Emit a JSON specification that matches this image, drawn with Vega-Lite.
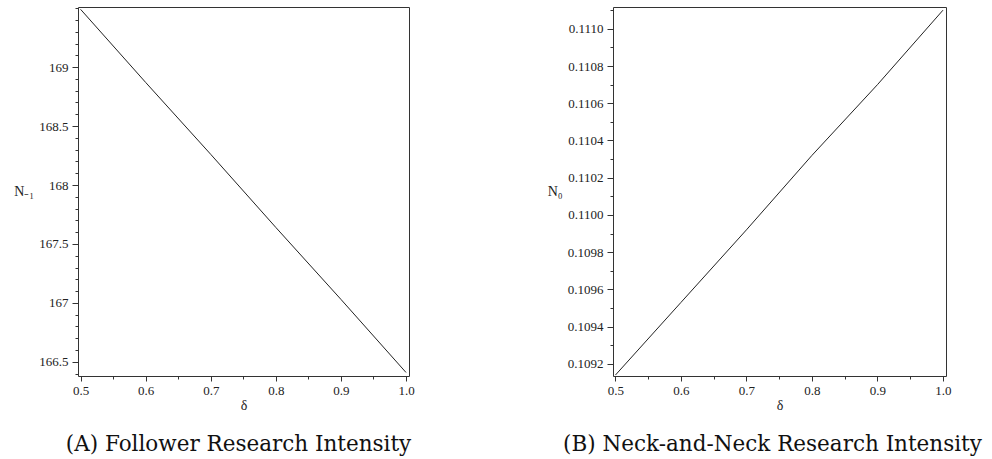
{
  "$schema": "https://vega.github.io/schema/vega-lite/v6.json",
  "padding": {"left": 13, "top": 1, "right": 5, "bottom": 5},
  "background": "white",
  "config": {
    "view": {"stroke": "#333", "strokeWidth": 1},
    "axis": {
      "domain": false,
      "grid": false,
      "labelFont": "Liberation Serif",
      "labelFontSize": 13,
      "labelColor": "#222",
      "tickColor": "#333",
      "titleFont": "Liberation Serif",
      "titleFontWeight": "normal",
      "titleFontSize": 14,
      "titleColor": "#222",
      "labelFlush": false,
      "labelOverlap": false
    },
    "title": {"font": "DejaVu Serif", "fontSize": 21.5, "fontWeight": "normal", "color": "#111", "orient": "bottom", "frame": "group", "anchor": "middle"},
    "concat": {"spacing": 131}
  },
  "hconcat": [
    {
      "title": {"text": "(A) Follower Research Intensity", "offset": 22, "dx": -5},
      "width": 331,
      "height": 369,
      "data": {"values": [
        {"delta": 0.5, "N": 169.49},
        {"delta": 0.6, "N": 168.87},
        {"delta": 0.7, "N": 168.26},
        {"delta": 0.8, "N": 167.64},
        {"delta": 0.9, "N": 167.03},
        {"delta": 1.0, "N": 166.41}
      ]},
      "mark": {"type": "line", "color": "#222", "strokeWidth": 1},
      "encoding": {
        "x": {
          "field": "delta", "type": "quantitative",
          "scale": {"domain": [0.496, 1.0046], "nice": false, "zero": false},
          "axis": {
            "title": "δ",
            "values": [0.5, 0.55, 0.6, 0.65, 0.7, 0.75, 0.8, 0.85, 0.9, 0.95, 1.0],
            "format": ".1f",
            "labelExpr": "abs(datum.value*10 - round(datum.value*10)) < 1e-6 ? datum.label : ''",
            "tickSize": {"condition": {"test": "abs(datum.value*10 - round(datum.value*10)) < 1e-6", "value": 5}, "value": 3},
            "labelPadding": 3,
            "titlePadding": 1
          }
        },
        "y": {
          "field": "N", "type": "quantitative",
          "scale": {"domain": [166.38, 169.51], "nice": false, "zero": false},
          "axis": {
            "title": "N₋₁",
            "titleAngle": 0,
            "titleAlign": "right",
            "titleBaseline": "middle",
            "titlePadding": 5,
            "values": [166.4, 166.5, 166.6, 166.7, 166.8, 166.9, 167.0, 167.1, 167.2, 167.3, 167.4, 167.5, 167.6, 167.7, 167.8, 167.9, 168.0, 168.1, 168.2, 168.3, 168.4, 168.5, 168.6, 168.7, 168.8, 168.9, 169.0, 169.1, 169.2, 169.3, 169.4, 169.5],
            "format": ".1~f",
            "labelExpr": "(abs(datum.value*2 - round(datum.value*2)) < 1e-6 && datum.value < 169.2) ? datum.label : ''",
            "tickSize": {"condition": {"test": "abs(datum.value*2 - round(datum.value*2)) < 1e-6 && datum.value < 169.2", "value": 6}, "value": 3},
            "labelPadding": 4
          }
        }
      }
    },
    {
      "title": {"text": "(B) Neck-and-Neck Research Intensity", "offset": 22, "dx": -7},
      "width": 333,
      "height": 369,
      "data": {"values": [
        {"delta": 0.5, "N": 0.10914},
        {"delta": 0.6, "N": 0.10953},
        {"delta": 0.7, "N": 0.10992},
        {"delta": 0.8, "N": 0.11032},
        {"delta": 0.9, "N": 0.11070},
        {"delta": 1.0, "N": 0.11110}
      ]},
      "mark": {"type": "line", "color": "#222", "strokeWidth": 1},
      "encoding": {
        "x": {
          "field": "delta", "type": "quantitative",
          "scale": {"domain": [0.4963, 1.0046], "nice": false, "zero": false},
          "axis": {
            "title": "δ",
            "values": [0.5, 0.55, 0.6, 0.65, 0.7, 0.75, 0.8, 0.85, 0.9, 0.95, 1.0],
            "format": ".1f",
            "labelExpr": "abs(datum.value*10 - round(datum.value*10)) < 1e-6 ? datum.label : ''",
            "tickSize": {"condition": {"test": "abs(datum.value*10 - round(datum.value*10)) < 1e-6", "value": 5}, "value": 3},
            "labelPadding": 3,
            "titlePadding": 1
          }
        },
        "y": {
          "field": "N", "type": "quantitative",
          "scale": {"domain": [0.109135, 0.111117], "nice": false, "zero": false},
          "axis": {
            "title": "N₀",
            "titleAngle": 0,
            "titleAlign": "right",
            "titleBaseline": "middle",
            "titlePadding": 5,
            "values": [0.1092, 0.1093, 0.1094, 0.1095, 0.1096, 0.1097, 0.1098, 0.1099, 0.11, 0.1101, 0.1102, 0.1103, 0.1104, 0.1105, 0.1106, 0.1107, 0.1108, 0.1109, 0.111, 0.1111],
            "format": ".4f",
            "labelExpr": "abs(datum.value*5000 - round(datum.value*5000)) < 1e-6 ? datum.label : ''",
            "tickSize": {"condition": {"test": "abs(datum.value*5000 - round(datum.value*5000)) < 1e-6", "value": 6}, "value": 3},
            "labelPadding": 4
          }
        }
      }
    }
  ]
}
